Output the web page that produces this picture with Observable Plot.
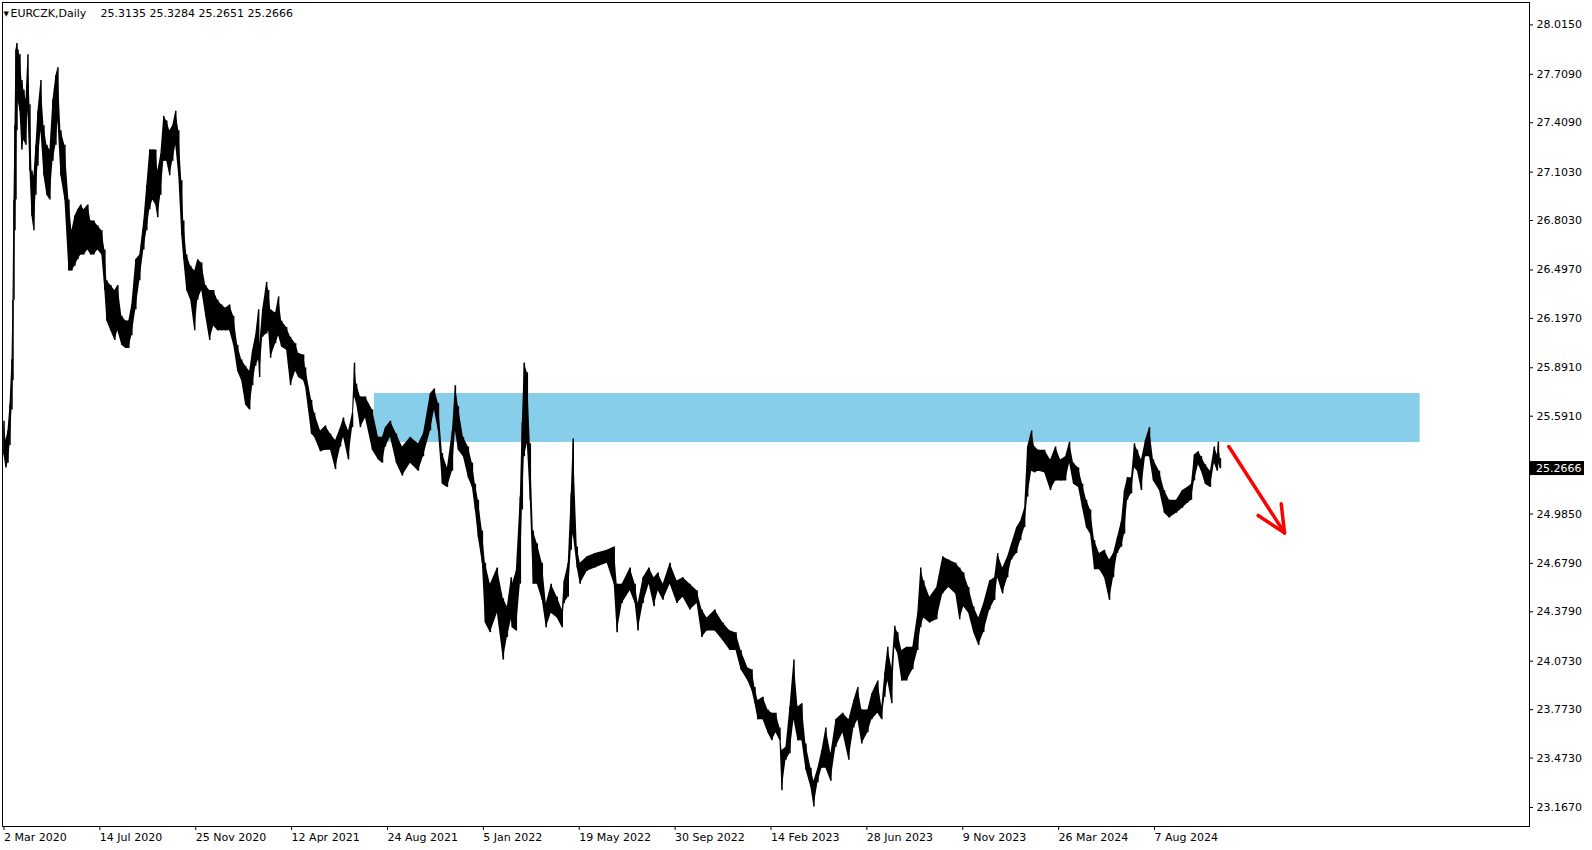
<!DOCTYPE html>
<html><head><meta charset="utf-8">
<script src="https://cdn.jsdelivr.net/npm/d3@7"></script>
<script src="https://cdn.jsdelivr.net/npm/@observablehq/plot@0.6"></script>
<style>
html,body{margin:0;padding:0;background:#fff;}
#chart{position:relative;width:1592px;height:850px;overflow:hidden;}
svg{display:block;}
</style></head><body><div id="chart"></div>
<script>
// ---- data ----
const symbolLabel = "EURCZK,Daily";
const lastBarOHLC = [25.3135, 25.3284, 25.2651, 25.2666];

// bar index (trading days since 2 Mar 2020), high / low envelope
const barIndex = [
0,2,4,6,8,9,10,11,12,13,14,16,18,20,22,24,26,28,30,32,34,37,40,43,46,49,52,54,57,61,65,68,71,74,77,80,84,87,90,94,98,101,103,107,111,114,118,122,125,128,132,136,140,143,146,149,152,154,157,160,163,166,169,172,175,178,180,183,187,191,194,198,202,206,210,214,218,222,226,230,234,238,242,246,249,252,255,
256,259,263,265,267,272,275,278,283,287,292,295,300,302,308,311,317,322,327,332,337,340,345,349,351,353,357,362,369,375,379,382,387,393,399,407,415,420,427,431,435,439,444,449,452,455,460,465,469,472,475,479,482,487,494,500,504,
508,509,513,517,519,521,524,527,530,534,539,543,548,554,559,561,565,568,570,574,577,584,592,604,611,614,619,627,632,635,640,646,651,655,660,667,674,680,687,694,699,704,712,720,727,733,738,745,
749,752,755,760,765,769,773,777,779,783,787,791,795,799,803,808,811,815,819,823,828,833,840,846,851,855,859,865,869,875,879,882,885,889,892,895,899,904,910,915,918,921,927,934,940,946,953,957,961,966,971,976,981,987,992,995,1000,1005,
1009,1014,1018,1022,1025,1029,1032,1036,1042,1048,1053,1058,1063,1067,1071,1076,1080,1084,1088,1092,1097,1102,1107,1111,1115,1119,1122,1125,1129,1132,1135,1139,1143,1147,1151,1157,1162,1167,1174,1180,1185,1189,1192,1196,1199,1203,1208,1212,1215,1216,1218];
const barHigh = [
25.56,25.44,25.50,25.66,25.94,26.31,26.93,27.39,27.86,27.90,27.86,27.83,27.67,27.61,27.55,27.83,27.52,27.11,27.08,27.27,27.48,27.67,27.39,27.27,27.24,27.55,27.70,27.75,27.36,27.27,26.93,26.74,26.83,26.87,26.90,26.87,26.90,26.80,26.80,26.77,26.74,26.62,26.43,26.40,26.37,26.40,26.21,26.18,26.18,26.28,26.56,26.59,26.80,27.02,27.24,27.24,27.24,27.11,27.21,27.45,27.42,27.36,27.39,27.48,27.36,27.05,26.80,26.59,26.52,26.49,26.56,26.54,26.40,26.37,26.37,26.31,26.28,26.26,26.28,26.21,26.03,25.94,25.90,25.87,26.00,26.09,26.25,
26.03,26.25,26.42,26.37,26.25,26.23,26.33,26.18,26.14,26.08,26.04,25.98,25.97,25.89,25.69,25.61,25.50,25.53,25.48,25.44,25.52,25.58,25.50,25.61,25.92,25.79,25.71,25.71,25.63,25.46,25.46,25.52,25.56,25.48,25.40,25.46,25.42,25.48,25.73,25.76,25.67,25.36,25.27,25.50,25.78,25.65,25.46,25.40,25.30,25.17,25.07,24.88,24.68,24.55,24.65,24.46,24.41,
24.59,24.55,24.63,25.09,25.55,25.92,25.86,25.42,24.88,24.80,24.68,24.43,24.55,24.47,24.39,24.57,24.68,25.11,25.45,24.78,24.68,24.72,24.74,24.76,24.78,24.55,24.55,24.65,24.55,24.43,24.59,24.65,24.59,24.62,24.55,24.68,24.57,24.59,24.55,24.51,24.39,24.34,24.39,24.31,24.26,24.25,24.14,24.03,
24.02,23.91,23.83,23.85,23.77,23.75,23.75,23.66,23.52,23.54,23.79,24.08,23.79,23.81,23.56,23.41,23.33,23.41,23.52,23.66,23.50,23.71,23.75,23.71,23.83,23.91,23.77,23.77,23.87,23.95,23.79,24.00,24.16,24.03,24.29,24.25,24.14,24.16,24.16,24.37,24.65,24.57,24.47,24.53,24.72,24.70,24.68,24.65,24.62,24.53,24.41,24.34,24.43,24.57,24.59,24.74,24.65,24.72,
24.80,24.90,24.94,25.02,25.40,25.50,25.40,25.38,25.38,25.32,25.40,25.32,25.34,25.43,25.30,25.27,25.17,25.07,25.01,24.82,24.74,24.76,24.70,24.74,24.84,24.94,25.13,25.21,25.21,25.42,25.38,25.32,25.44,25.52,25.32,25.25,25.13,25.07,25.07,25.13,25.15,25.17,25.35,25.37,25.34,25.29,25.25,25.40,25.35,25.43,25.3284];
const barLow = [
25.35,25.27,25.30,25.41,25.63,25.81,26.31,26.74,26.93,27.36,27.55,27.48,27.24,27.30,27.27,27.48,27.11,26.83,26.74,26.96,27.14,27.36,27.08,26.96,26.93,27.17,27.27,27.42,27.08,26.93,26.49,26.49,26.52,26.56,26.59,26.59,26.62,26.59,26.59,26.62,26.59,26.37,26.18,26.12,26.06,26.12,26.03,26.01,26.01,26.09,26.25,26.43,26.62,26.74,26.87,26.93,26.90,26.82,26.96,27.17,27.17,27.08,27.17,27.27,27.08,26.71,26.56,26.37,26.31,26.12,26.31,26.37,26.21,26.06,26.15,26.12,26.12,26.12,26.12,26.03,25.87,25.81,25.66,25.63,25.78,25.90,25.94,
25.83,26.08,26.10,26.12,25.95,26.04,26.09,26.02,26.00,25.78,25.87,25.83,25.81,25.77,25.48,25.46,25.37,25.38,25.38,25.26,25.40,25.46,25.32,25.52,25.71,25.67,25.52,25.58,25.38,25.32,25.30,25.40,25.46,25.30,25.22,25.30,25.25,25.34,25.50,25.63,25.50,25.17,25.15,25.25,25.50,25.38,25.34,25.21,25.15,25.01,24.84,24.68,24.31,24.25,24.37,24.08,24.22,
24.33,24.28,24.26,24.55,25.01,25.34,25.42,25.07,24.55,24.55,24.45,24.28,24.37,24.34,24.28,24.43,24.47,24.76,24.86,24.65,24.55,24.63,24.65,24.68,24.55,24.25,24.43,24.51,24.43,24.26,24.43,24.55,24.41,24.51,24.45,24.55,24.43,24.47,24.39,24.43,24.22,24.26,24.26,24.20,24.14,24.14,24.02,23.95,
23.89,23.81,23.71,23.71,23.63,23.58,23.63,23.58,23.27,23.46,23.50,23.71,23.58,23.58,23.40,23.29,23.17,23.32,23.41,23.41,23.33,23.54,23.63,23.46,23.66,23.71,23.56,23.63,23.71,23.75,23.71,23.85,23.95,23.81,24.16,24.12,23.95,23.95,24.02,24.14,24.28,24.34,24.31,24.33,24.49,24.53,24.49,24.33,24.41,24.37,24.25,24.17,24.25,24.39,24.45,24.59,24.49,24.59,
24.70,24.74,24.82,24.90,25.09,25.25,25.24,25.25,25.24,25.13,25.19,25.19,25.19,25.30,25.17,25.15,25.02,24.90,24.86,24.64,24.64,24.59,24.45,24.59,24.74,24.78,24.86,25.07,25.11,25.27,25.25,25.13,25.34,25.34,25.19,25.13,24.99,24.96,24.99,25.02,25.05,25.07,25.19,25.29,25.25,25.17,25.15,25.30,25.25,25.30,25.2651];

const xTickIndex = [0,96,192,288,384,480,576,672,768,864,960,1056,1152];
const xTickLabels = ["2 Mar 2020","14 Jul 2020","25 Nov 2020","12 Apr 2021","24 Aug 2021","5 Jan 2022","19 May 2022","30 Sep 2022","14 Feb 2023","28 Jun 2023","9 Nov 2023","26 Mar 2024","7 Aug 2024"];
const yTickValues = [28.0150,27.7090,27.4090,27.1030,26.8030,26.4970,26.1970,25.8910,25.5910,24.9850,24.6790,24.3790,24.0730,23.7730,23.4730,23.1670];

// resistance zone (bar index span, price span)
const zoneIndex = [371, 1418];
const zonePrice = [25.428, 25.7315];

// red arrow segments: shaft, left wing, right wing
const arrowFromIndex = [1226.4, 1255.8, 1278.9];
const arrowFromPrice = [25.403, 24.976, 25.048];
const arrowToIndex   = [1282.2, 1282.2, 1282.2];
const arrowToPrice   = [24.868, 24.868, 24.868];

// ---- build ----
const bars = barIndex.map((i, k) => ({i, hi: barHigh[k], lo: barLow[k]}));
const zone = [{x1: zoneIndex[0], x2: zoneIndex[1], y1: zonePrice[0], y2: zonePrice[1]}];
const arrow = arrowFromIndex.map((d, k) => ({x1: d, y1: arrowFromPrice[k], x2: arrowToIndex[k], y2: arrowToPrice[k]}));
const font = "'DejaVu Sans', sans-serif";

const chart = Plot.plot({
  width: 1592, height: 850,
  marginLeft: 2, marginRight: 63, marginTop: 2, marginBottom: 24,
  style: {fontFamily: font, fontSize: "11px", color: "#000", background: "#fff", overflow: "visible"},
  x: {domain: [-1.5, 1527.5]},
  y: {domain: [23.049, 28.154]},
  marks: [
    Plot.rect(zone, {x1: "x1", x2: "x2", y1: "y1", y2: "y2", fill: "#87CEEB"}),
    Plot.areaY(bars, {x: "i", y1: "lo", y2: "hi", fill: "#000", curve: "linear"}),
    Plot.ruleX(bars, {x: "i", y1: "lo", y2: "hi", stroke: "#000", strokeWidth: 1.5}),
    Plot.link(arrow, {x1: "x1", y1: "y1", x2: "x2", y2: "y2", stroke: "#ff0000", strokeWidth: 3.5, strokeLinecap: "round"}),
    Plot.frame({stroke: "#000", strokeWidth: 1}),
    Plot.axisY(yTickValues, {anchor: "right", tickSize: 3, tickPadding: 4, tickFormat: d => d.toFixed(4), label: null, fontSize: 11, fill: "#000"}),
    Plot.axisX(xTickIndex, {anchor: "bottom", tickSize: 4, tickPadding: 3, tickFormat: (d, k) => xTickLabels[xTickIndex.indexOf(d)], textAnchor: "start", label: null, fontSize: 11, fill: "#000"}),
    Plot.text(["\u25BC"], {frameAnchor: "top-left", dx: 1, dy: 11, fontSize: 7, lineAnchor: "middle", fill: "#000"}),
    Plot.text([symbolLabel], {frameAnchor: "top-left", dx: 8, dy: 11, fontSize: 11, lineAnchor: "middle", fill: "#000"}),
    Plot.text([lastBarOHLC.map(v => v.toFixed(4)).join(" ")], {frameAnchor: "top-left", dx: 98, dy: 11, fontSize: 11, lineAnchor: "middle", fill: "#000"})
  ]
});
document.getElementById("chart").appendChild(chart);

// current price label on right axis
const svg = d3.select(chart);
const yPx = chart.scale("y").apply(lastBarOHLC[3]);
const g = svg.append("g");
g.append("rect").attr("x", 1530).attr("y", yPx - 7).attr("width", 54).attr("height", 14).attr("fill", "#000");
g.append("text").attr("x", 1536).attr("y", yPx).attr("dy", "0.32em")
  .attr("text-anchor", "start")
  .attr("fill", "#fff").attr("font-family", font).attr("font-size", 11)
  .text(lastBarOHLC[3].toFixed(4));
</script></body></html>
